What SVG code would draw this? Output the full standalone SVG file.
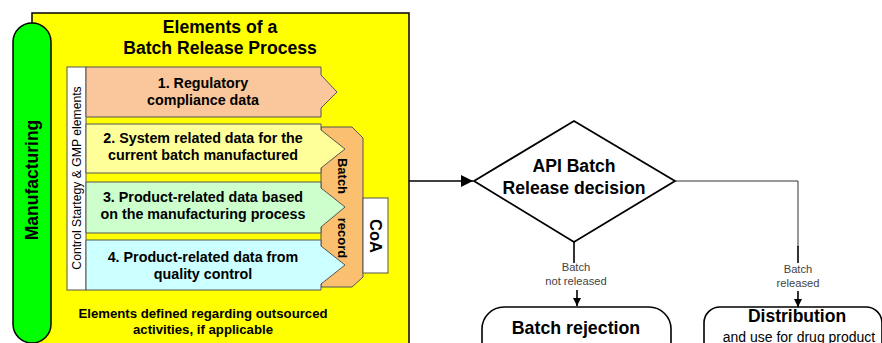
<svg xmlns="http://www.w3.org/2000/svg" width="882" height="343" viewBox="0 0 882 343">
<style>
text{font-family:"Liberation Sans",Arial,sans-serif;fill:#000}
.b{font-weight:bold}
.row{font-size:14.3px;font-weight:bold;text-anchor:middle}
.arr{stroke:#555;stroke-width:1}
.lbl{font-size:11.2px;fill:#444;text-anchor:middle}
.line{fill:none;stroke:#000;stroke-width:1.6}
.thin{fill:none;stroke:#333;stroke-width:1}
</style>
<defs>
<marker id="ah" viewBox="0 0 10 10" refX="10" refY="5" markerWidth="8" markerHeight="8" markerUnits="userSpaceOnUse" orient="auto">
<path d="M0,0 L10,5 L0,10 z" fill="#000"/>
</marker>
<marker id="ah2" viewBox="0 0 10 10" refX="10" refY="5" markerWidth="12" markerHeight="12" markerUnits="userSpaceOnUse" orient="auto">
<path d="M0,0 L10,5 L0,10 z" fill="#000"/>
</marker>
</defs>
<rect width="882" height="343" fill="#fff"/>
<g id="process-box">
<rect x="32" y="13" width="377" height="340" fill="#ffff00" stroke="#000" stroke-width="1.5"/>
<text class="b" x="220" y="33" font-size="17.6" text-anchor="middle">Elements of a</text>
<text class="b" x="220" y="54" font-size="17.6" text-anchor="middle">Batch Release Process</text>
<text class="b" x="203" y="318" font-size="13.2" text-anchor="middle">Elements defined regarding outsourced</text>
<text class="b" x="203" y="334" font-size="13.2" text-anchor="middle">activities, if applicable</text>
</g>
<g id="manufacturing">
<rect x="13" y="23" width="38" height="320" rx="19" fill="#00ff00" stroke="#000" stroke-width="1.5"/>
<text class="b" transform="translate(38,180) rotate(-90)" font-size="17.5" text-anchor="middle">Manufacturing</text>
</g>
<g id="control-strategy">
<rect x="67" y="67" width="19" height="223" fill="#fff" stroke="#555" stroke-width="1"/>
<text transform="translate(80.5,178) rotate(-90)" font-size="12.2" text-anchor="middle">Control Startegy &amp; GMP elements</text>
</g>
<g id="batch-record">
<polygon points="321,127 352,127 363,138 363,277 352,287 321,287" fill="#fabf6f" stroke="#555" stroke-width="1"/>
</g>
<g id="row1">
<polygon class="arr" points="86,67 321,67 321,75 337,92 321,108 321,117 86,117" fill="#fac79c"/>
<text class="row" x="203" y="88">1. Regulatory</text>
<text class="row" x="203" y="105">compliance data</text>
</g>
<g id="row2">
<polygon class="arr" points="86,124 321,124 321,130 345,149 321,168 321,173 86,173" fill="#ffff99"/>
<text class="row" x="203" y="143">2. System related data for the</text>
<text class="row" x="203" y="160">current batch manufactured</text>
</g>
<g id="row3">
<polygon class="arr" points="86,182 321,182 321,188 345,207 321,227 321,233 86,233" fill="#ccffcc"/>
<text class="row" x="203" y="202">3. Product-related data based</text>
<text class="row" x="203" y="219">on the manufacturing process</text>
</g>
<g id="row4">
<polygon class="arr" points="86,240 321,240 321,246 345,265 321,284 321,290 86,290" fill="#ccffff"/>
<text class="row" x="203" y="262">4. Product-related data from</text>
<text class="row" x="203" y="279">quality control</text>
</g>
<g id="batch-record-label">
<text class="b" transform="translate(338,176) rotate(90)" font-size="13" text-anchor="middle">Batch</text>
<text class="b" transform="translate(338,238) rotate(90)" font-size="13" text-anchor="middle">record</text>
</g>
<g id="coa">
<rect x="363" y="198" width="25" height="75" fill="#fff" stroke="#555" stroke-width="1"/>
<text class="b" transform="translate(370,236) rotate(90)" font-size="16.5" text-anchor="middle">CoA</text>
</g>
<g id="decision">
<polygon points="474,181 574,121 675,181 574,242" fill="#fff" stroke="#000" stroke-width="1.8"/>
<text class="b" x="574" y="172" font-size="17.6" text-anchor="middle">API Batch</text>
<text class="b" x="574" y="194" font-size="17.6" text-anchor="middle">Release decision</text>
</g>
<g id="rejection">
<rect x="482" y="307" width="189" height="60" rx="22" fill="#fff" stroke="#000" stroke-width="1.6"/>
<text class="b" x="576" y="334" font-size="17.8" text-anchor="middle">Batch rejection</text>
</g>
<g id="distribution">
<rect x="704" y="307" width="178" height="60" rx="16" fill="#fff" stroke="#000" stroke-width="1.6"/>
<text class="b" x="797" y="322" font-size="17.5" text-anchor="middle">Distribution</text>
<text x="799" y="342" font-size="14" text-anchor="middle">and use for drug product</text>
</g>
<g id="connectors">
<line class="line" x1="409" y1="181" x2="473" y2="181" marker-end="url(#ah2)"/>
<line class="line" x1="574" y1="242" x2="574" y2="263"/>
<text class="lbl" x="576" y="271">Batch</text>
<text class="lbl" x="576" y="285">not released</text>
<line class="line" x1="577" y1="290" x2="577" y2="306" marker-end="url(#ah)"/>
<polyline class="thin" points="675,181 798,181 798,247"/>
<line class="line" x1="798" y1="246" x2="798" y2="263"/>
<text class="lbl" x="798" y="273">Batch</text>
<text class="lbl" x="798" y="287">released</text>
<line class="line" x1="798" y1="291" x2="798" y2="307" marker-end="url(#ah)"/>
</g>
</svg>
